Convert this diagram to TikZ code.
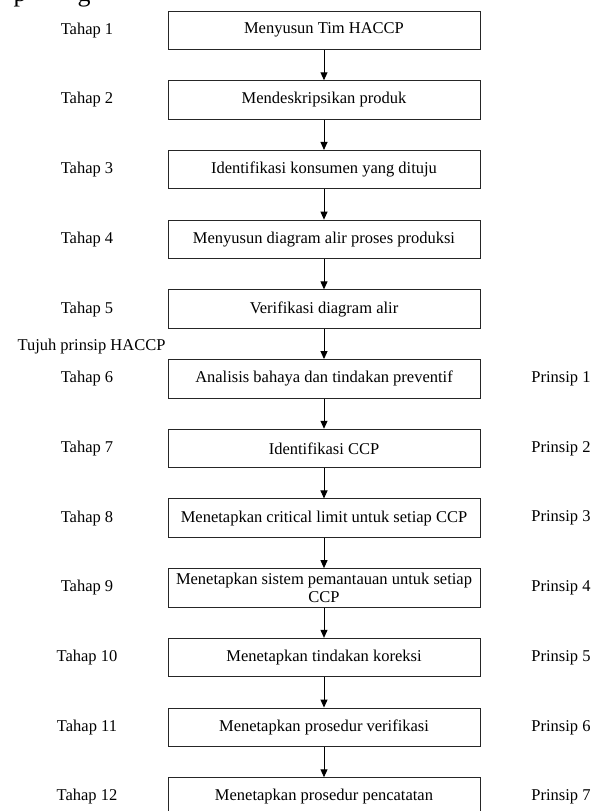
\documentclass[tikz,border=0pt]{standalone}
\usepackage{fontspec}
\setmainfont{Liberation Serif}
\usetikzlibrary{arrows.meta}
\begin{document}
\begin{tikzpicture}[x=1pt,y=-1pt,
  txt/.style={font=\fontsize{16.5}{18.5}\selectfont, inner sep=0pt},
  box/.style={txt, draw=black!85, line width=1pt, minimum width=312pt, minimum height=38.5pt, align=center},
  arr/.style={draw=black, line width=1pt, -{Triangle[length=8pt,width=7pt]}}]
\useasboundingbox (0,0) rectangle (598,811);
% cropped fragment of the line above
\begin{scope}
\clip (0,0) rectangle (598,811);
\node[font=\fontsize{26}{30}\selectfont, anchor=base, inner sep=0pt] (fragp) at (20,1.5) {p};
\node[font=\fontsize{26}{30}\selectfont, anchor=base, inner sep=0pt] (fragg) at (84,1.5) {g};
\end{scope}
\foreach \i/\t in {1/{Menyusun Tim HACCP},
                   2/{Mendeskripsikan produk},
                   3/{Identifikasi konsumen yang dituju},
                   4/{Menyusun diagram alir proses produksi},
                   5/{Verifikasi diagram alir},
                   6/{Analisis bahaya dan tindakan preventif},
                   7/{Identifikasi CCP},
                   8/{Menetapkan critical limit untuk setiap CCP},
                   9/{Menetapkan sistem pemantauan untuk setiap\\CCP},
                   10/{Menetapkan tindakan koreksi},
                   11/{Menetapkan prosedur verifikasi},
                   12/{Menetapkan prosedur pencatatan}}{
  \node[box] (b\i) at (324,{30.3+69.7*(\i-1)}) {\t};
  \node[txt] (t\i) at (87,{30.3+69.7*(\i-1)}) {Tahap \i};
}
\foreach \i/\p in {6/1,7/2,8/3,9/4,10/5,11/6,12/7}{
  \node[txt] (p\i) at (561,{30.3+69.7*(\i-1)}) {Prinsip \p};
}
\node[txt] (tujuh) at (91.5,347) {Tujuh prinsip HACCP};
\foreach \i [evaluate=\i as \j using int(\i+1)] in {1,...,11}{
  \draw[arr] (b\i) -- (b\j);
}
\end{tikzpicture}
\end{document}
